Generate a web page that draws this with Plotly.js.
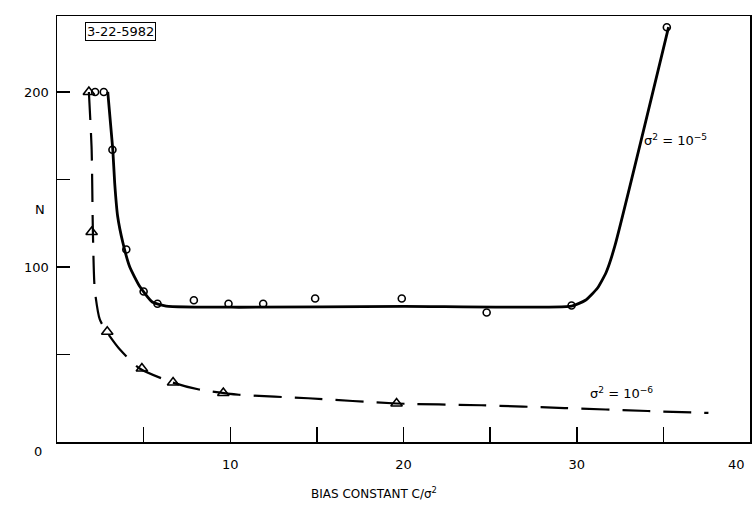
<!DOCTYPE html>
<html>
<head>
<meta charset="utf-8">
<script src="https://cdn.plot.ly/plotly-3.0.1.min.js"></script>
<style>html,body{margin:0;padding:0;background:#fff;}#chart{width:754px;height:505px;}</style>
</head>
<body>
<div id="chart"></div>
<script>
// sigma^2 = 1e-5 : measured points (open circles)
const circX = [2.2, 2.7, 3.2, 4.0, 5.0, 5.8, 7.9, 9.9, 11.9, 14.9, 19.9, 24.8, 29.7, 35.2];
const circY = [200, 200, 167, 110, 86, 79, 81, 79, 79, 82, 82, 74, 78, 237];
// sigma^2 = 1e-5 : fitted solid curve
const solidX = [2.93, 3.22, 3.33, 3.5, 3.8, 4.2, 4.77, 5.5, 6.3, 10.5, 20, 29.7, 30.5, 31.2, 31.7, 32.2, 35.3];
const solidY = [200, 167, 148, 129, 114, 100, 89, 80, 77.7, 77, 77.5, 77.7, 81, 88, 97, 112, 237];
// sigma^2 = 1e-6 : measured points (open triangles)
const triX = [1.84, 2.0, 2.9, 4.9, 6.7, 9.6, 19.6];
const triY = [200, 120, 63, 42, 34, 28, 22];
// sigma^2 = 1e-6 : fitted dashed curve
const dashX = [1.84, 2.0, 2.07, 2.18, 2.47, 2.87, 3.62, 4.77, 6.67, 8.2, 10.5, 14.5, 19.6, 24.5, 29.3, 34.1, 37.6];
const dashY = [200, 167, 121, 87, 70, 63, 53, 42, 34, 30, 27, 25, 22, 21, 19.4, 17.7, 16.6];
// axis ticks
const xTickVals = [10, 20, 30];
const xTickText = ["10", "20", "30"];
const yTickVals = [100, 200];
const yTickText = ["100", "200"];

const FONT = "DejaVu Sans, Arial, sans-serif";

const traces = [
  {x: solidX, y: solidY, mode: "lines", type: "scatter", line: {color: "#000", width: 2.8, shape: "spline", smoothing: 0.5}, hoverinfo: "skip"},
  {x: dashX, y: dashY, mode: "lines", type: "scatter", line: {color: "#000", width: 2.2, dash: "28px,13px", shape: "spline", smoothing: 0.6}, hoverinfo: "skip"},
  {x: circX, y: circY, mode: "markers", type: "scatter", marker: {symbol: "circle-open", size: 7, color: "#000", line: {width: 1.6, color: "#000"}}},
  {x: triX, y: triY, mode: "markers", type: "scatter", marker: {symbol: "triangle-up-open", size: 10, color: "#000", line: {width: 1.6, color: "#000"}}}
];

const layout = {
  width: 754, height: 505,
  margin: {l: 57, r: 4, t: 16, b: 63},
  paper_bgcolor: "#fff", plot_bgcolor: "#fff",
  showlegend: false,
  font: {family: FONT, color: "#000", size: 13},
  xaxis: {
    range: [0, 40], showgrid: false, zeroline: false,
    showline: true, mirror: true, linecolor: "#000", linewidth: 1.5,
    tickmode: "array", tickvals: xTickVals, ticktext: xTickText,
    ticks: "inside", ticklen: 15, tickwidth: 1.5, tickcolor: "#000",
    minor: {dtick: 5, tick0: 0, ticks: "inside", ticklen: 15, tickwidth: 1.5, tickcolor: "#000", showgrid: false},
    ticklabelstandoff: 10,
    tickfont: {family: FONT, size: 13, color: "#000"}
  },
  yaxis: {
    range: [0, 243.4], showgrid: false, zeroline: false,
    showline: true, mirror: true, linecolor: "#000", linewidth: 1.5,
    tickmode: "array", tickvals: yTickVals, ticktext: yTickText,
    ticks: "inside", ticklen: 13, tickwidth: 1.5, tickcolor: "#000",
    minor: {dtick: 50, tick0: 0, ticks: "inside", ticklen: 13, tickwidth: 1.5, tickcolor: "#000", showgrid: false},
    ticklabelstandoff: 4,
    tickfont: {family: FONT, size: 13, color: "#000"}
  },
  annotations: [
    {xref: "paper", yref: "paper", x: -0.027, y: -0.023, text: "0", showarrow: false, xanchor: "center", yanchor: "middle", font: {size: 13}},
    {xref: "paper", yref: "paper", x: 0.995, y: -0.052, text: "40", showarrow: false, xanchor: "right", yanchor: "middle", font: {size: 13}},
    {xref: "paper", yref: "paper", x: -0.0245, y: 0.545, text: "N", showarrow: false, xanchor: "center", yanchor: "middle", font: {size: 13}},
    {xref: "paper", yref: "paper", x: 0.457, y: -0.12, text: "BIAS CONSTANT C/σ<sup>2</sup>", showarrow: false, xanchor: "center", yanchor: "middle", font: {size: 12}},
    {xref: "paper", yref: "paper", x: 0.091, y: 0.963, text: "3-22-5982", showarrow: false, xanchor: "center", yanchor: "middle", font: {size: 13}, bordercolor: "#000", borderwidth: 1, borderpad: 1, bgcolor: "#fff"},
    {xref: "paper", yref: "paper", x: 0.893, y: 0.709, text: "σ<sup>2</sup> = 10<sup>−5</sup>", showarrow: false, xanchor: "center", yanchor: "middle", font: {size: 13}},
    {xref: "paper", yref: "paper", x: 0.814, y: 0.115, text: "σ<sup>2</sup> = 10<sup>−6</sup>", showarrow: false, xanchor: "center", yanchor: "middle", font: {size: 13}}
  ]
};

Plotly.newPlot("chart", traces, layout, {displayModeBar: false, staticPlot: true});
</script>
</body>
</html>
